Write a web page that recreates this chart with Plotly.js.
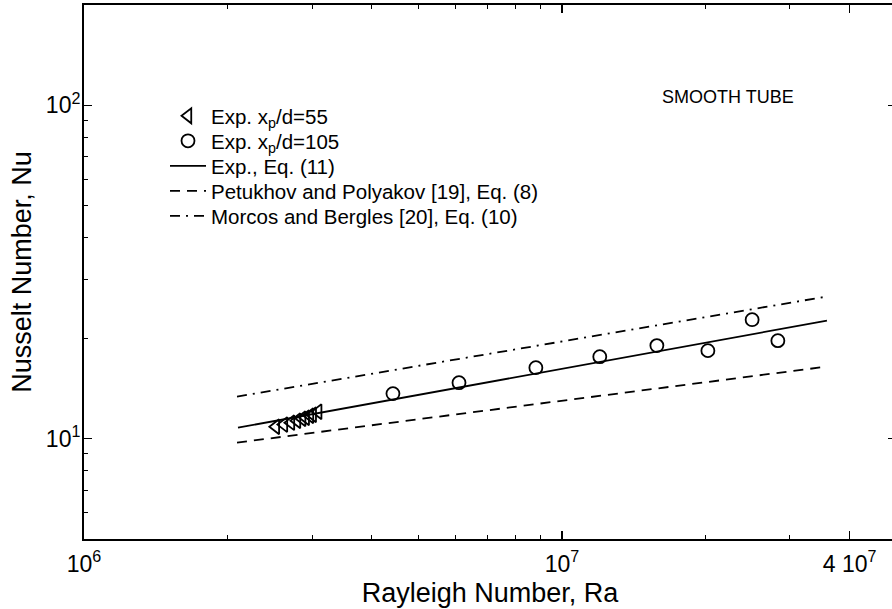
<!DOCTYPE html>
<html>
<head>
<meta charset="utf-8">
<script src="https://cdn.plot.ly/plotly-3.0.1.min.js"></script>
<style>
html,body{margin:0;padding:0;overflow:hidden;background:#fff;}
#chart{width:900px;height:609px;}
</style>
</head>
<body>
<div id="chart"></div>
<script>
// Exp. xp/d = 55 (triangles)
const ra55 = [2.52e6, 2.62e6, 2.71e6, 2.79e6, 2.86e6, 2.91e6, 2.97e6, 3.01e6, 3.09e6];
const nu55 = [10.86, 11.02, 11.17, 11.32, 11.48, 11.56, 11.72, 11.80, 12.05];
// Exp. xp/d = 105 (circles)
const ra105 = [4.43e6, 6.09e6, 8.82e6, 1.20e7, 1.58e7, 2.02e7, 2.50e7, 2.83e7];
const nu105 = [13.65, 14.72, 16.33, 17.62, 19.02, 18.37, 22.75, 19.68];
// Correlation lines (end points)
const raEq11 = [2.10e6, 3.585e7];
const nuEq11 = [10.79, 22.6];
const raEq8 = [2.09e6, 3.57e7];
const nuEq8 = [9.73, 16.44];
const raEq10 = [2.09e6, 3.57e7];
const nuEq10 = [13.37, 26.67];
// Tick labels
const xTickVals = [1e6, 1e7, 4e7];
const xTickText = ['10<sup>6</sup>', '10<sup>7</sup>', '4 10<sup>7</sup>'];
const xMinorVals = [2e6,3e6,4e6,5e6,6e6,7e6,8e6,9e6,2e7,3e7];
const yTickVals = [10, 100];
const yTickText = ['10<sup>1</sup>', '10<sup>2</sup>'];
const yMinorVals = [6,7,8,9,20,30,40,50,60,70,80,90];
// Legend labels
const names = ['Exp. x<sub>p</sub>/d=55', 'Exp. x<sub>p</sub>/d=105', 'Exp., Eq. (11)',
               'Petukhov and Polyakov [19], Eq. (8)', 'Morcos and Bergles [20], Eq. (10)'];

const FONT = 'Liberation Sans, Arial, Helvetica, sans-serif';
const legendRowsPx = [116, 141, 166, 191, 216];

const traces = [
  {x: ra55, y: nu55, mode: 'markers', name: names[0], legend: 'legend',
   marker: {symbol: 'triangle-left-open', size: 13, color: '#000', line: {width: 1.8, color: '#000'}}},
  {x: ra105, y: nu105, mode: 'markers', name: names[1], legend: 'legend2',
   marker: {symbol: 'circle-open', size: 13, color: '#000', line: {width: 1.8, color: '#000'}}},
  {x: raEq11, y: nuEq11, mode: 'lines', name: names[2], legend: 'legend3',
   line: {color: '#000', width: 1.8}},
  {x: raEq8, y: nuEq8, mode: 'lines', name: names[3], legend: 'legend4',
   line: {color: '#000', width: 1.8, dash: '10px,7px'}},
  {x: raEq10, y: nuEq10, mode: 'lines', name: names[4], legend: 'legend5',
   line: {color: '#000', width: 1.8, dash: '10px,6px,2px,6px'}}
];

function legendBox(rowPx) {
  return {x: (165 - 84) / 812, y: (539 - rowPx) / 534, xanchor: 'left', yanchor: 'middle',
          bgcolor: 'rgba(0,0,0,0)', borderwidth: 0, itemwidth: 36,
          font: {family: FONT, size: 20.5, color: '#000'}};
}

const layout = {
  width: 900, height: 609,
  margin: {l: 84, r: 4, t: 5, b: 70},
  paper_bgcolor: '#fff', plot_bgcolor: '#fff',
  font: {family: FONT, color: '#000', size: 21},
  showlegend: true,
  legend: legendBox(legendRowsPx[0]),
  legend2: legendBox(legendRowsPx[1]),
  legend3: legendBox(legendRowsPx[2]),
  legend4: legendBox(legendRowsPx[3]),
  legend5: legendBox(legendRowsPx[4]),
  xaxis: {
    type: 'log', range: [6, Math.log10(5e7)],
    showline: true, linewidth: 2, linecolor: '#000', mirror: 'allticks',
    showgrid: false, zeroline: false,
    ticks: 'inside', ticklen: 8, tickwidth: 1.2, tickcolor: '#000',
    tickmode: 'array', tickvals: xTickVals, ticktext: xTickText,
    tickfont: {family: FONT, size: 23, color: '#000'}, ticklabelstandoff: 3,
    minor: {tickmode: 'array', tickvals: xMinorVals, ticks: 'inside', ticklen: 4, tickwidth: 1, tickcolor: '#000', showgrid: false},
    title: {text: 'Rayleigh Number, Ra', font: {family: FONT, size: 27, color: '#000'}, standoff: 8}
  },
  yaxis: {
    type: 'log', range: [Math.log10(5), Math.log10(200)],
    showline: true, linewidth: 2, linecolor: '#000', mirror: 'allticks',
    showgrid: false, zeroline: false,
    ticks: 'inside', ticklen: 8, tickwidth: 1.2, tickcolor: '#000',
    tickmode: 'array', tickvals: yTickVals, ticktext: yTickText,
    tickfont: {family: FONT, size: 23, color: '#000'}, ticklabelstandoff: -3,
    minor: {tickmode: 'array', tickvals: yMinorVals, ticks: 'inside', ticklen: 4, tickwidth: 1, tickcolor: '#000', showgrid: false},
    title: {text: 'Nusselt Number, Nu', font: {family: FONT, size: 27, color: '#000'}, standoff: 6}
  },
  annotations: [
    {xref: 'paper', yref: 'paper', x: (728-84)/812, y: (539-97)/534, xanchor: 'center', yanchor: 'middle',
     text: 'SMOOTH TUBE', showarrow: false, font: {family: FONT, size: 18, color: '#000'}}
  ]
};

Plotly.newPlot('chart', traces, layout, {displayModeBar: false, staticPlot: true});
</script>
</body>
</html>
